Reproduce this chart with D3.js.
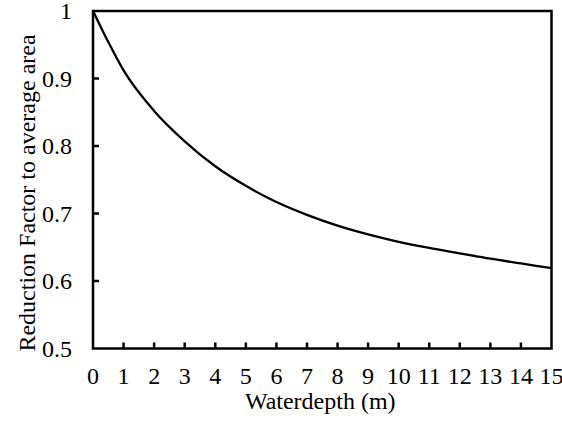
<!DOCTYPE html>
<html>
<head>
<meta charset="utf-8">
<script src="https://cdn.jsdelivr.net/npm/d3@7"></script>
<style>
html,body{margin:0;padding:0;background:#fff;font-family:"Times New Roman",Tinos,"Liberation Serif",serif;}
</style>
</head>
<body>
<svg id="chart" width="562" height="421" style="font-family:'Times New Roman',Tinos,'Liberation Serif',serif"></svg>
<script>
const depth = [0, 0.5, 1, 2, 3, 4, 5, 6, 7, 8, 9, 10, 11, 12, 13, 14, 15];
const factor = [1.0, 0.954, 0.912, 0.852, 0.807, 0.770, 0.741, 0.717, 0.698, 0.682, 0.669, 0.658, 0.649, 0.641, 0.633, 0.626, 0.619];
const xTicks = [0,1,2,3,4,5,6,7,8,9,10,11,12,13,14,15];
const yTicks = [0.5,0.6,0.7,0.8,0.9,1];
const xTitle = "Waterdepth (m)";
const yTitle = "Reduction Factor to average area";

const FONT = "Times New Roman";
const FS = 24;
const svg = d3.select("#chart");
const L = 93, R = 551.5, T = 11, B = 348.5;
const x = d3.scaleLinear().domain([0,15]).range([L,R]);
const y = d3.scaleLinear().domain([0.5,1]).range([B,T]);

svg.append("rect").attr("x",L).attr("y",T).attr("width",R-L).attr("height",B-T)
  .attr("fill","none").attr("stroke","#000").attr("stroke-width",2.5);

svg.append("g").selectAll("line").data(xTicks.slice(1,-1)).join("line")
  .attr("x1",d=>x(d)).attr("x2",d=>x(d)).attr("y1",B).attr("y2",B-6)
  .attr("stroke","#000").attr("stroke-width",2.5);
svg.append("g").selectAll("line").data(yTicks.slice(1,-1)).join("line")
  .attr("x1",L).attr("x2",L+6).attr("y1",d=>y(d)).attr("y2",d=>y(d))
  .attr("stroke","#000").attr("stroke-width",2.5);

svg.append("g").selectAll("text").data(xTicks).join("text")
  .attr("x",d=>x(d)).attr("y",B+35.5).attr("text-anchor","middle")
  .attr("font-family",FONT).attr("font-size",FS).attr("fill","#000").text(d=>d);
svg.append("g").selectAll("text").data(yTicks).join("text")
  .attr("x",L-21).attr("y",d=>y(d)+8).attr("text-anchor","end")
  .attr("font-family",FONT).attr("font-size",FS).attr("fill","#000")
  .text(d => d===1 ? "1" : d3.format(".1f")(d));

svg.append("path").datum(depth.map((d,i)=>[d,factor[i]]))
  .attr("fill","none").attr("stroke","#000").attr("stroke-width",2.3)
  .attr("d", d3.line().x(d=>x(d[0])).y(d=>y(d[1])).curve(d3.curveMonotoneX));

svg.append("text").attr("x",(L+R)/2 - 2).attr("y",409).attr("text-anchor","middle")
  .attr("font-family",FONT).attr("font-size",FS).attr("fill","#000").text(xTitle);
svg.append("text").attr("transform","translate(35,193) rotate(-90)").attr("text-anchor","middle")
  .attr("font-family",FONT).attr("font-size",FS).attr("fill","#000").text(yTitle);
</script>
</body>
</html>
